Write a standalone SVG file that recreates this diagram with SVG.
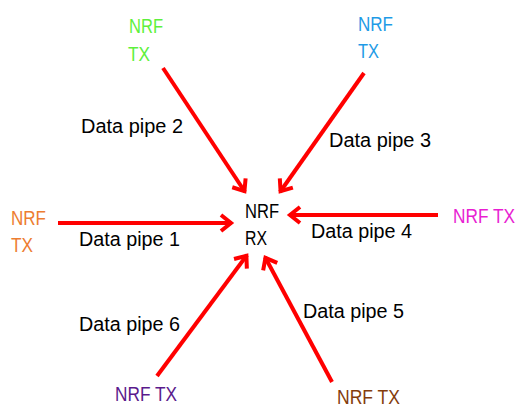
<svg xmlns="http://www.w3.org/2000/svg" width="522" height="413" viewBox="0 0 522 413">
<style>
text{font-family:"Liberation Sans",Arial,sans-serif;font-size:19.5px}
.lbl{fill:#000}
.conn line{stroke:#ff0000;stroke-width:4;fill:none}
</style>
<defs>
<marker id="ah" markerUnits="userSpaceOnUse" viewBox="-16 -12 20 24" markerWidth="20" markerHeight="24" refX="0" refY="0" orient="auto">
<path d="M-11,-8 L-1,0 L-11,8" fill="none" stroke="#ff0000" stroke-width="4"/>
</marker>
</defs>
<rect width="522" height="413" fill="#fff"/>
<g id="connectors" class="conn">
<line x1="58" y1="223" x2="232" y2="223" marker-end="url(#ah)"/>
<line x1="163" y1="68" x2="245" y2="192" marker-end="url(#ah)"/>
<line x1="364" y1="73" x2="280" y2="192" marker-end="url(#ah)"/>
<line x1="438" y1="215" x2="289" y2="215" marker-end="url(#ah)"/>
<line x1="332" y1="382" x2="265" y2="257" marker-end="url(#ah)"/>
<line x1="157" y1="376" x2="247" y2="255" marker-end="url(#ah)"/>
</g>
<g id="labels" class="lbl">
<text x="79" y="246" textLength="101" lengthAdjust="spacingAndGlyphs">Data pipe 1</text>
<text x="81" y="133" textLength="102" lengthAdjust="spacingAndGlyphs">Data pipe 2</text>
<text x="329" y="147" textLength="102" lengthAdjust="spacingAndGlyphs">Data pipe 3</text>
<text x="311" y="238" textLength="101" lengthAdjust="spacingAndGlyphs">Data pipe 4</text>
<text x="303" y="318" textLength="101" lengthAdjust="spacingAndGlyphs">Data pipe 5</text>
<text x="79" y="331" textLength="101" lengthAdjust="spacingAndGlyphs">Data pipe 6</text>
</g>
<g id="rx">
<text x="245" y="218" fill="#000" textLength="34" lengthAdjust="spacingAndGlyphs">NRF</text>
<text x="245" y="245" fill="#000" textLength="22" lengthAdjust="spacingAndGlyphs">RX</text>
</g>
<g id="tx1" fill="#ed7d31">
<text x="11" y="225" textLength="35" lengthAdjust="spacingAndGlyphs">NRF</text>
<text x="11" y="252" textLength="22" lengthAdjust="spacingAndGlyphs">TX</text>
</g>
<g id="tx2" fill="#5ef03c">
<text x="129" y="33" textLength="34" lengthAdjust="spacingAndGlyphs">NRF</text>
<text x="128" y="61" textLength="22" lengthAdjust="spacingAndGlyphs">TX</text>
</g>
<g id="tx3" fill="#1e9be6">
<text x="358" y="31" textLength="35" lengthAdjust="spacingAndGlyphs">NRF</text>
<text x="358" y="58" textLength="21" lengthAdjust="spacingAndGlyphs">TX</text>
</g>
<g id="tx4" fill="#e81ed2">
<text x="453" y="223" textLength="62" lengthAdjust="spacingAndGlyphs">NRF TX</text>
</g>
<g id="tx5" fill="#843c0c">
<text x="337" y="404" textLength="63" lengthAdjust="spacingAndGlyphs">NRF TX</text>
</g>
<g id="tx6" fill="#5a1a8c">
<text x="115" y="401" textLength="62" lengthAdjust="spacingAndGlyphs">NRF TX</text>
</g>
</svg>
